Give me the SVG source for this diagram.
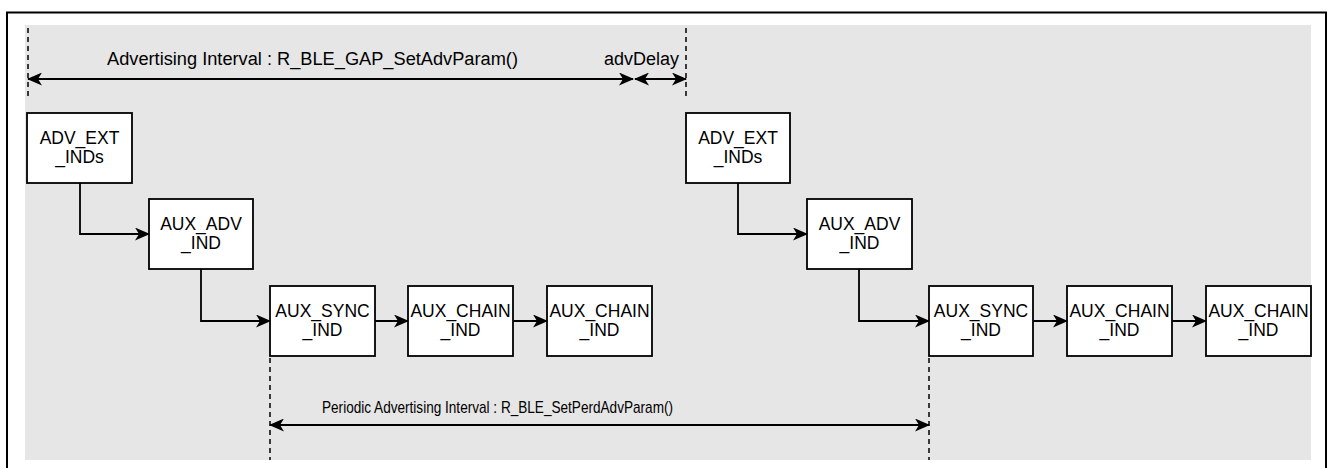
<svg xmlns="http://www.w3.org/2000/svg" width="1328" height="468" viewBox="0 0 1328 468">
<style>
.bg{fill:#e6e6e6;stroke:none}
.frame{fill:none;stroke:#000;stroke-width:2}
.box{fill:#fff;stroke:#000;stroke-width:1.8}
.bt{font-family:"Liberation Sans",Arial,sans-serif;font-size:17.5px;fill:#000;text-anchor:middle}
.lbl{font-family:"Liberation Sans",Arial,sans-serif;font-size:18px;fill:#000}
.conn{fill:none;stroke:#000;stroke-width:1.8}
.dash{fill:none;stroke:#000;stroke-width:1.5;stroke-dasharray:5 4}
</style>
<defs>
<marker id="ah" viewBox="0 0 15 13" refX="14" refY="6.5" markerWidth="15" markerHeight="13" markerUnits="userSpaceOnUse" orient="auto-start-reverse">
<path d="M0,0 L15,6.5 L0,13 L4,6.5 Z" fill="#000"/>
</marker>
</defs>
<rect class="frame" x="7" y="12.5" width="1319" height="470"/>
<rect class="bg" x="25" y="25" width="1286" height="435"/>

<g id="guides">
<line class="dash" x1="28" y1="28" x2="28" y2="96"/>
<line class="dash" x1="686" y1="28" x2="686" y2="96"/>
<line class="dash" x1="270" y1="358" x2="270" y2="460"/>
<line class="dash" x1="929" y1="358" x2="929" y2="460"/>
</g>

<g id="labels">
<text class="lbl" x="107" y="65" textLength="411" lengthAdjust="spacingAndGlyphs">Advertising Interval : R_BLE_GAP_SetAdvParam()</text>
<text class="lbl" x="604" y="65" textLength="75" lengthAdjust="spacingAndGlyphs">advDelay</text>
<text class="lbl" x="322" y="413" style="font-size:17px" textLength="351" lengthAdjust="spacingAndGlyphs">Periodic Advertising Interval : R_BLE_SetPerdAdvParam()</text>
</g>

<g id="n1"><rect class="box" x="27" y="113" width="105" height="70"/><text class="bt" x="79.5" y="144">ADV_EXT</text><text class="bt" x="79.5" y="163">_INDs</text></g>
<g id="n2"><rect class="box" x="149" y="199" width="104" height="70"/><text class="bt" x="201" y="230">AUX_ADV</text><text class="bt" x="201" y="249">_IND</text></g>
<g id="n3"><rect class="box" x="270" y="286" width="105" height="70"/><text class="bt" x="322.5" y="317">AUX_SYNC</text><text class="bt" x="322.5" y="336">_IND</text></g>
<g id="n4"><rect class="box" x="408" y="286" width="105" height="70"/><text class="bt" x="460.5" y="317">AUX_CHAIN</text><text class="bt" x="460.5" y="336">_IND</text></g>
<g id="n5"><rect class="box" x="547" y="286" width="105" height="70"/><text class="bt" x="599.5" y="317">AUX_CHAIN</text><text class="bt" x="599.5" y="336">_IND</text></g>

<g id="n6"><rect class="box" x="686" y="113" width="104" height="70"/><text class="bt" x="738" y="144">ADV_EXT</text><text class="bt" x="738" y="163">_INDs</text></g>
<g id="n7"><rect class="box" x="807" y="199" width="105" height="70"/><text class="bt" x="859.5" y="230">AUX_ADV</text><text class="bt" x="859.5" y="249">_IND</text></g>
<g id="n8"><rect class="box" x="929" y="286" width="104" height="70"/><text class="bt" x="981" y="317">AUX_SYNC</text><text class="bt" x="981" y="336">_IND</text></g>
<g id="n9"><rect class="box" x="1067" y="286" width="105" height="70"/><text class="bt" x="1119.5" y="317">AUX_CHAIN</text><text class="bt" x="1119.5" y="336">_IND</text></g>
<g id="n10"><rect class="box" x="1206" y="286" width="105" height="70"/><text class="bt" x="1258.5" y="317">AUX_CHAIN</text><text class="bt" x="1258.5" y="336">_IND</text></g>

<g id="connectors">
<path class="conn" d="M80,183 V234 H149" marker-end="url(#ah)"/>
<path class="conn" d="M201,269 V321 H270" marker-end="url(#ah)"/>
<path class="conn" d="M375,321 H408" marker-end="url(#ah)"/>
<path class="conn" d="M513,321 H547" marker-end="url(#ah)"/>
<path class="conn" d="M738,183 V234 H807" marker-end="url(#ah)"/>
<path class="conn" d="M859,269 V321 H929" marker-end="url(#ah)"/>
<path class="conn" d="M1033,321 H1067" marker-end="url(#ah)"/>
<path class="conn" d="M1172,321 H1206" marker-end="url(#ah)"/>
<path class="conn" d="M28,79 H633" marker-start="url(#ah)" marker-end="url(#ah)"/>
<path class="conn" d="M635,79 H686" marker-start="url(#ah)" marker-end="url(#ah)"/>
<path class="conn" d="M270,425 H929" marker-start="url(#ah)" marker-end="url(#ah)"/>
</g>
</svg>
